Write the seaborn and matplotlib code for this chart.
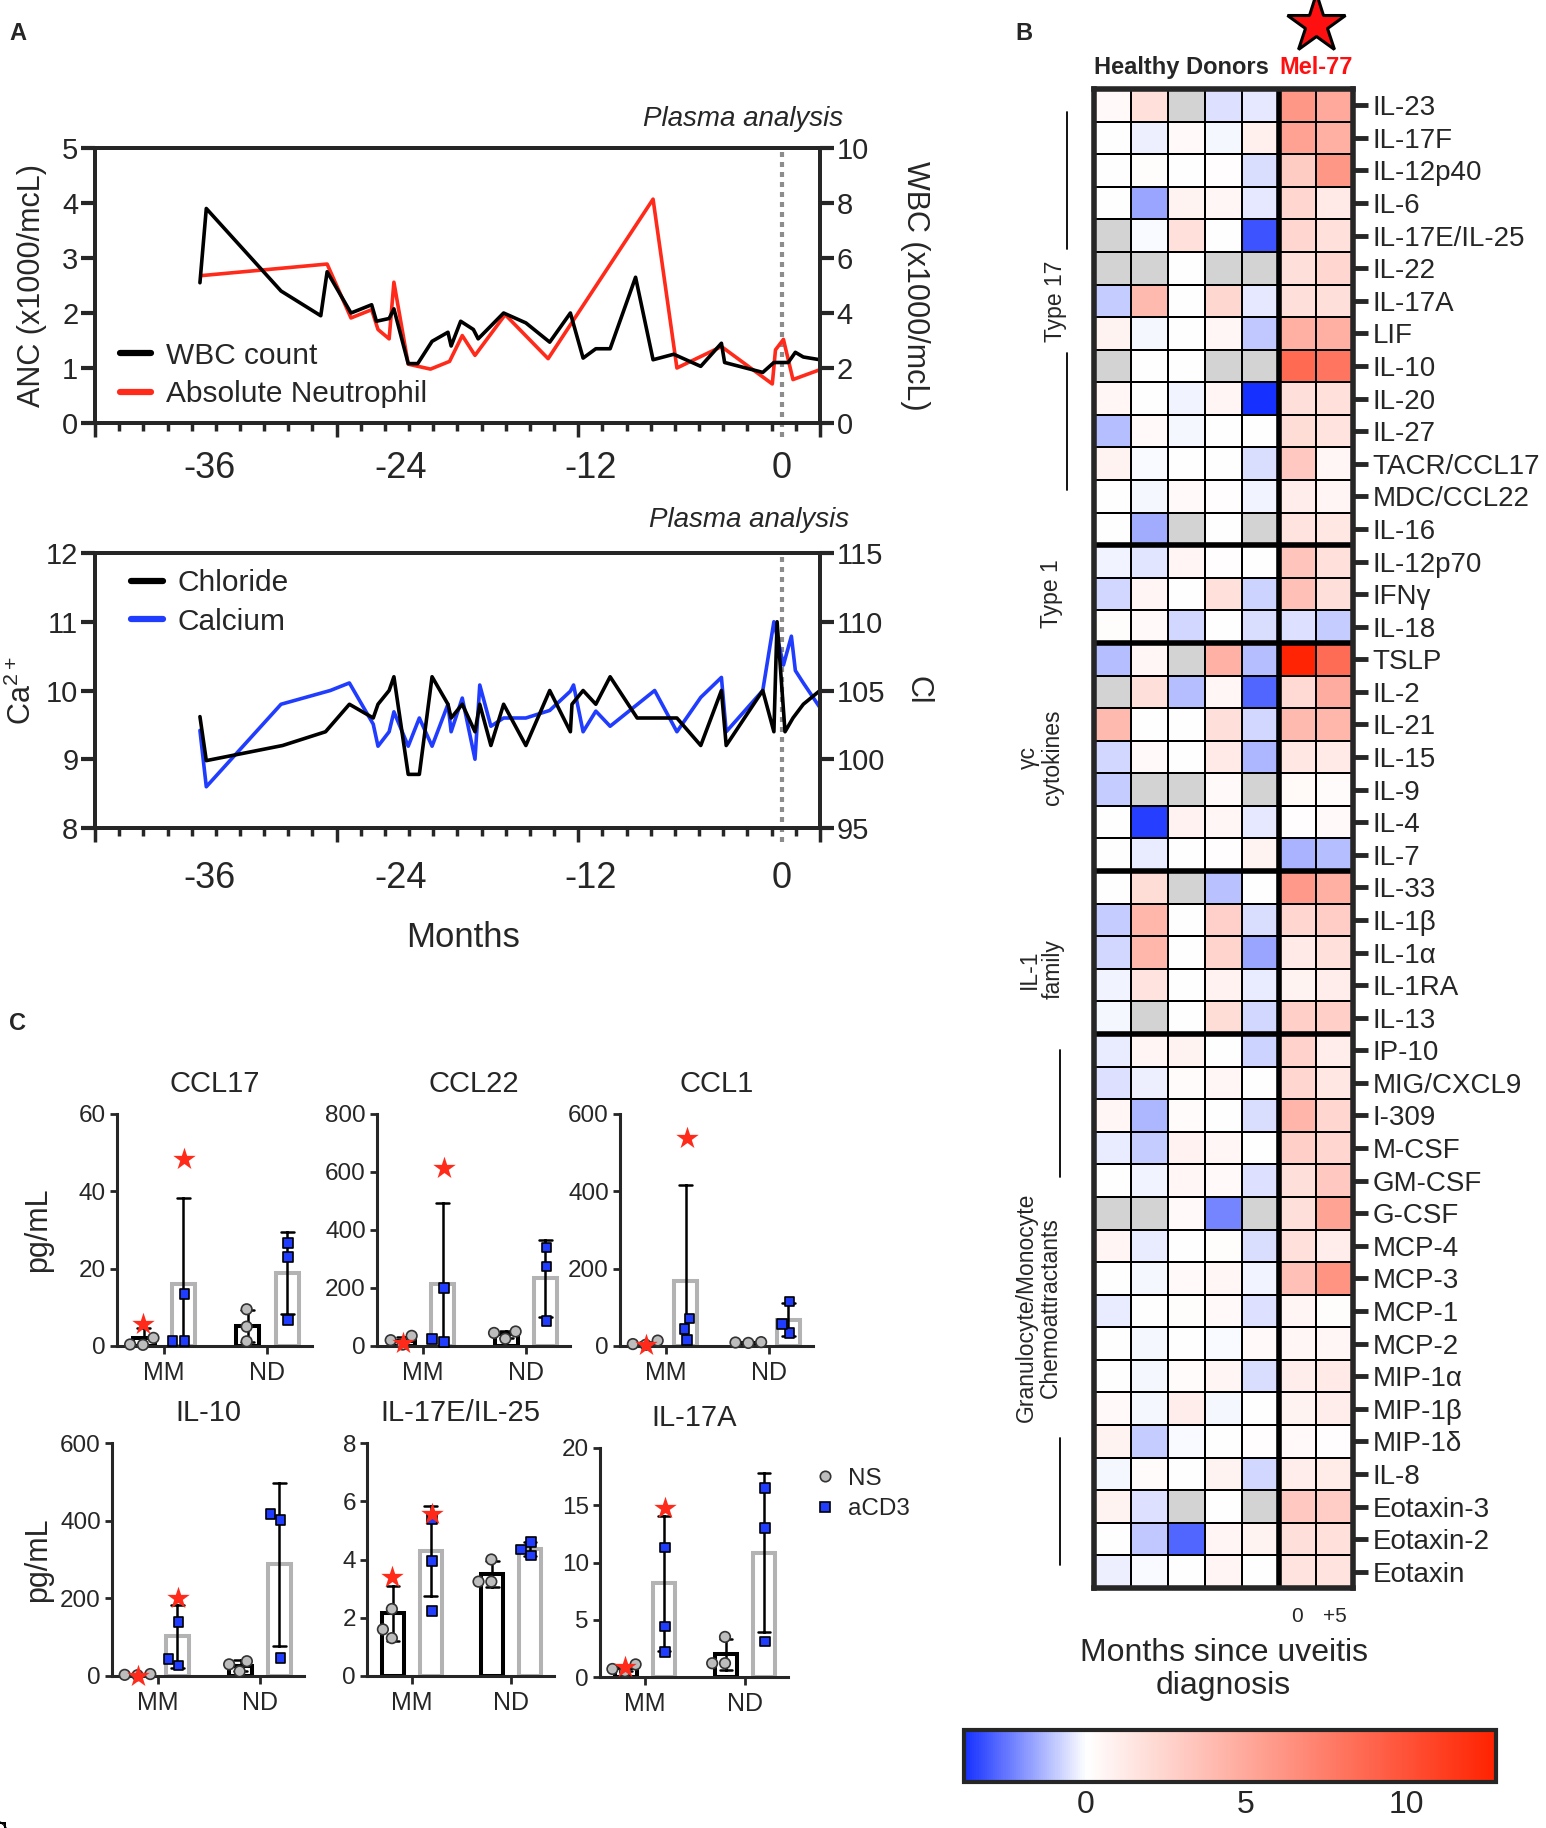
import numpy as np
import pandas as pd
import matplotlib
matplotlib.use("Agg")
import matplotlib.pyplot as plt
import seaborn as sns
from matplotlib.colors import LinearSegmentedColormap
from matplotlib.lines import Line2D

nan = np.nan

# ---------------- panel A data ----------------
wbc_months = [-36.6, -36.2, -31.5, -29.0, -28.6, -27.1, -25.8, -25.5, -24.7, -24.4, -23.5, -22.9,
              -22.0, -21.0, -20.8, -20.2, -19.4, -19.1, -17.5, -16.1, -14.6, -13.3, -12.5, -11.7,
              -10.8, -9.2, -8.1, -6.8, -5.1, -3.8, -3.6, -1.2, -0.5, 0.4, 0.85, 1.35, 2.4]
wbc_count = [5.1, 7.8, 4.8, 3.9, 5.5, 4.0, 4.3, 3.7, 3.8, 4.15, 2.16, 2.16,
             2.97, 3.3, 2.8, 3.7, 3.4, 3.06, 4.0, 3.64, 2.94, 4.0, 2.36, 2.7,
             2.7, 5.3, 2.3, 2.5, 2.06, 2.9, 2.2, 1.84, 2.2, 2.2, 2.57, 2.4, 2.3]
anc_months = [-36.5, -28.6, -27.1, -25.8, -25.4, -24.7, -24.4, -23.5, -22.1, -20.9, -20.1,
              -19.3, -17.4, -14.7, -8.1, -6.6, -3.8, -0.6, -0.4, 0.1, 0.7, 2.4]
anc_values = [2.68, 2.89, 1.91, 2.06, 1.70, 1.53, 2.56, 1.07, 0.98, 1.12, 1.59,
              1.23, 1.97, 1.17, 4.07, 1.0, 1.39, 0.71, 1.33, 1.52, 0.79, 0.97]

cl_months = [-36.6, -36.2, -31.4, -28.7, -27.2, -25.7, -25.4, -24.7, -24.4, -23.5, -22.8, -22.0,
             -21.0, -20.8, -20.1, -19.3, -19.0, -18.3, -17.5, -16.1, -14.6, -13.3, -13.2, -12.5,
             -11.7, -10.8, -9.1, -6.6, -5.1, -3.8, -3.5, -1.2, -0.5, -0.3, 0.2, 0.7, 1.35, 2.4]
chloride = [103.1, 99.9, 101.0, 102.0, 104.0, 103.0, 104.0, 105.0, 106.0, 98.9, 98.9, 106.0,
            104.0, 103.0, 104.0, 102.0, 104.0, 101.0, 104.0, 101.0, 105.0, 102.0, 104.0, 105.0,
            104.0, 106.0, 103.0, 103.0, 101.0, 105.0, 101.0, 105.0, 102.0, 110.0, 102.0, 103.0, 104.0, 105.0]
ca_months = [-36.6, -36.2, -31.5, -28.4, -27.2, -25.7, -25.4, -24.7, -24.4, -23.5, -22.8, -22.0,
             -21.0, -20.8, -20.1, -19.3, -19.0, -18.3, -17.5, -16.1, -14.6, -13.3, -13.1, -12.5,
             -11.7, -10.8, -8.0, -6.6, -5.1, -3.8, -3.5, -1.2, -0.5, 0.1, 0.6, 0.85, 1.35, 2.4]
calcium = [9.42, 8.6, 9.8, 10.0, 10.11, 9.51, 9.19, 9.4, 9.69, 9.19, 9.6, 9.19,
           9.8, 9.4, 9.89, 9.0, 10.08, 9.48, 9.6, 9.6, 9.71, 9.99, 10.08, 9.4,
           9.7, 9.48, 10.0, 9.4, 9.9, 10.19, 9.4, 10.0, 11.0, 10.37, 10.79, 10.29, 10.11, 9.75]

# ---------------- panel C data ----------------
cytokines = ["CCL17", "CCL22", "CCL1", "IL-10", "IL-17E/IL-25", "IL-17A"]
y_max = [60, 800, 600, 600, 8, 20]
y_step = [20, 200, 200, 200, 2, 5]
mm_ns = [[0.3, 2.1, 0.4], [5, 35, 20], [3, 14, 5], [2, 5, 3], [2.3, 1.6, 1.3], [0.5, 1.1, 0.7]]
mm_ns_mel77 = [5.6, 12, 2, 0, 3.4, 0.85]
mm_acd3 = [[1.3, 1.3, 13.5], [15, 25, 200], [15, 44, 71], [27, 139, 44], [5.4, 3.95, 2.24], [11.3, 4.4, 2.2]]
mm_acd3_mel77 = [48.4, 614, 538, 200, 5.56, 14.8]
nd_ns = [[9.5, 5.0, 1.2], [50, 45, 25], [9, 10, 8], [38, 30, 12], [4.0, 3.24, 3.24], [3.5, 1.2, 1.2]]
nd_acd3 = [[26.6, 23.1, 6.8], [340, 274, 86], [33, 115, 56], [417, 401, 46], [4.6, 4.14, 4.34], [16.5, 13.0, 3.1]]

# ---------------- panel B data ----------------
cytokine_rows = ["IL-23", "IL-17F", "IL-12p40", "IL-6", "IL-17E/IL-25", "IL-22", "IL-17A", "LIF",
                 "IL-10", "IL-20", "IL-27", "TACR/CCL17", "MDC/CCL22", "IL-16",
                 "IL-12p70", "IFNγ", "IL-18",
                 "TSLP", "IL-2", "IL-21", "IL-15", "IL-9", "IL-4", "IL-7",
                 "IL-33", "IL-1β", "IL-1α", "IL-1RA", "IL-13",
                 "IP-10", "MIG/CXCL9", "I-309", "M-CSF", "GM-CSF", "G-CSF", "MCP-4", "MCP-3",
                 "MCP-1", "MCP-2", "MIP-1α", "MIP-1β", "MIP-1δ", "IL-8", "Eotaxin-3",
                 "Eotaxin-2", "Eotaxin"]
group_names = ["Type 17", "Type 1", "γc\ncytokines", "IL-1\nfamily",
               "Granulocyte/Monocyte\nChemoattractants"]
group_sizes = [14, 3, 7, 5, 17]
hd_values = [
    [0.3, 1.8, nan, -0.5, -0.4],
    [0.0, -0.25, 0.3, -0.15, 0.9],
    [0.0, 0.2, 0.0, 0.1, -0.6],
    [0.0, -1.6, 0.7, 0.5, -0.4],
    [nan, -0.05, 1.8, 0.0, -3.1],
    [nan, nan, 0.0, nan, nan],
    [-0.9, 4.0, 0.0, 2.3, -0.4],
    [0.7, -0.15, 0.0, 0.5, -1.0],
    [nan, 0.0, 0.0, nan, nan],
    [0.5, 0.0, -0.2, 0.6, -3.8],
    [-1.2, 0.35, -0.15, 0.05, 0.0],
    [0.7, -0.1, 0.0, 0.05, -0.6],
    [0.0, -0.12, 0.35, 0.15, -0.2],
    [0.0, -1.5, nan, 0.05, nan],
    [-0.2, -0.45, 0.6, 0.15, 0.0],
    [-0.7, 0.6, 0.0, 1.8, -0.8],
    [0.2, 0.35, -0.7, 0.0, -0.6],
    [-1.2, 0.5, nan, 4.5, -1.2],
    [nan, 1.9, -1.2, 0.5, -2.8],
    [4.0, 0.0, 0.0, 1.9, -0.7],
    [-0.7, 0.35, 0.0, 1.2, -1.3],
    [-0.9, nan, nan, 0.35, nan],
    [0.0, -3.5, 0.8, 0.5, -0.4],
    [0.0, -0.3, 0.05, 0.1, 0.7],
    [0.05, 2.0, nan, -1.1, 0.0],
    [-0.9, 4.2, 0.0, 2.7, -0.6],
    [-0.7, 4.2, 0.0, 2.5, -1.6],
    [-0.2, 1.6, 0.0, 0.8, -0.35],
    [-0.15, nan, 0.05, 2.0, -0.7],
    [-0.3, 0.6, 0.7, 0.0, -0.8],
    [-0.5, -0.25, 0.25, 0.5, 0.0],
    [0.5, -1.3, 0.25, 0.0, -0.6],
    [-0.3, -0.9, 0.8, 0.5, 0.0],
    [0.0, -0.2, 0.5, 0.35, -0.5],
    [nan, nan, 0.35, -2.2, nan],
    [0.6, -0.35, 0.0, 0.2, -0.6],
    [0.0, -0.15, 0.35, 0.5, -0.2],
    [-0.35, 0.0, 0.2, 0.35, -0.5],
    [0.0, -0.15, 0.0, -0.05, 0.35],
    [0.0, -0.15, 0.25, 0.6, -0.6],
    [0.35, -0.15, 1.0, -0.15, 0.0],
    [0.7, -0.9, -0.1, 0.0, 0.1],
    [-0.15, 0.25, 0.0, 0.7, -0.7],
    [0.7, -0.5, nan, 0.0, nan],
    [0.0, -1.0, -2.8, 0.6, 0.7],
    [-0.25, -0.1, 0.0, 0.6, 0.05],
]
mel77_values = [
    [6.0, 5.0], [5.4, 4.6], [3.0, 6.0], [2.4, 1.2], [2.4, 1.8], [1.9, 2.4], [1.9, 1.9],
    [4.6, 4.6], [8.6, 8.0], [1.9, 1.8], [2.0, 1.6], [3.1, 0.5], [1.0, 0.6], [1.6, 1.4],
    [3.4, 1.8], [3.6, 1.9], [-0.5, -0.9],
    [12.6, 8.5], [2.2, 4.8], [4.0, 4.2], [1.4, 1.2], [0.4, 0.25], [0.15, 0.35], [-1.4, -1.2],
    [5.8, 4.6], [2.4, 2.9], [1.2, 1.8], [0.7, 1.0], [2.8, 2.8],
    [2.6, 1.0], [2.4, 1.4], [4.3, 2.4], [2.8, 2.4], [1.9, 3.1], [1.9, 5.3], [1.8, 1.0],
    [3.6, 6.2], [0.6, 0.2], [0.5, 0.5], [1.0, 1.2], [0.7, 1.0], [0.35, 0.1], [1.0, 1.1],
    [3.1, 2.9], [1.9, 1.8], [1.6, 1.6],
]
mel77_months = ["0", "+5"]
cbar_range = (-3.8, 12.8)
cbar_ticks = [0, 5, 10]

# ---------------- style ----------------
sns.set_style("ticks")
plt.rcParams["font.family"] = ["Liberation Sans", "DejaVu Sans"]
plt.rcParams["mathtext.fontset"] = "custom"
plt.rcParams["mathtext.rm"] = "Liberation Sans"
plt.rcParams["mathtext.default"] = "regular"

RED = "#ff2a1a"
BLUE = "#1f3cff"
GRAY_PT = "#bdbdbd"

W, H = 1546, 1828


def box(x0, y0, x1, y1):
    return [x0 / W, 1 - y1 / H, (x1 - x0) / W, (y1 - y0) / H]


fig = plt.figure(figsize=(W / 100, H / 100), dpi=100)

# ---------------- panel A ----------------
XMIN, XMAX = -43.2, 2.4


def style_timeline(ax, axr, lticks, rticks, label_pad):
    ax.set_xlim(XMIN, XMAX)
    ax.set_xticks(np.linspace(XMIN, XMAX, 4))
    ax.set_xticks(np.linspace(XMIN, XMAX, 31), minor=True)
    ax.set_xticklabels([])
    ax.tick_params(axis="x", which="major", length=10, width=2.5)
    ax.tick_params(axis="x", which="minor", length=6, width=2.5)
    sec = ax.secondary_xaxis("bottom")
    sec.set_ticks([-36, -24, -12, 0], labels=["-36", "-24", "-12", "0"], fontsize=26)
    sec.tick_params(length=0, pad=label_pad)
    sec.spines["bottom"].set_visible(False)
    ax.set_ylim(lticks[0], lticks[-1])
    ax.set_yticks(lticks, labels=[str(t) for t in lticks], fontsize=21)
    axr.set_ylim(rticks[0], rticks[-1])
    axr.set_yticks(rticks, labels=[str(t) for t in rticks], fontsize=21)
    ax.tick_params(axis="y", length=10, width=3, pad=2)
    axr.tick_params(axis="y", length=10, width=3, pad=2)
    for a in (ax, axr):
        for s in a.spines.values():
            s.set_linewidth(2.8)
    ax.axvline(0, ymin=-0.05, ymax=1, color="#8c8c8c", ls=(0, (1.2, 1.2)), lw=3,
               clip_on=False, zorder=0)
    ax.set_xlabel("")
    axr.set_xlabel("")


ax1 = fig.add_axes(box(95, 148, 820, 423))
ax1r = ax1.twinx()
sns.lineplot(x=anc_months, y=anc_values, ax=ax1, color=RED, linewidth=2.6, estimator=None)
sns.lineplot(x=wbc_months, y=wbc_count, ax=ax1r, color="black", linewidth=2.6, estimator=None)
style_timeline(ax1, ax1r, [0, 1, 2, 3, 4, 5], [0, 2, 4, 6, 8, 10], 20)
ax1.set_ylabel("ANC (x1000/mcL)", fontsize=22, va="center")
ax1.yaxis.set_label_coords(-0.087, 0.5)
ax1r.set_ylabel("WBC (x1000/mcL)", fontsize=22, rotation=-90, va="center")
ax1r.yaxis.set_label_coords(1.131, 0.5)
ax1r.legend([Line2D([], [], color="black", lw=4.5), Line2D([], [], color=RED, lw=4.5)],
            ["WBC count", "Absolute Neutrophil"], loc="center left",
            bbox_to_anchor=(0.034, 0.175), frameon=False, handlelength=1.05,
            handletextpad=0.5, labelspacing=0.35, borderaxespad=0, borderpad=0,
            prop={"size": 21.5})

ax2 = fig.add_axes(box(95, 553, 820, 828))
ax2r = ax2.twinx()
sns.lineplot(x=ca_months, y=calcium, ax=ax2, color=BLUE, linewidth=2.6, estimator=None)
sns.lineplot(x=cl_months, y=chloride, ax=ax2r, color="black", linewidth=2.6, estimator=None)
style_timeline(ax2, ax2r, [8, 9, 10, 11, 12], [95, 100, 105, 110, 115], 24)
ax2.set_ylabel("Ca$^{2+}$", fontsize=22, va="center")
ax2.yaxis.set_label_coords(-0.1, 0.5)
ax2r.set_ylabel("Cl", fontsize=22, rotation=-90, va="center")
ax2r.yaxis.set_label_coords(1.135, 0.5)
ax2r.legend([Line2D([], [], color="black", lw=4.5), Line2D([], [], color=BLUE, lw=4.5)],
            ["Chloride", "Calcium"], loc="center left",
            bbox_to_anchor=(0.05, 0.82), frameon=False, handlelength=1.05,
            handletextpad=0.5, labelspacing=0.35, borderaxespad=0, borderpad=0,
            prop={"size": 21.5})

fig.text(843 / W, 1 - 119 / H, "Plasma analysis", ha="right", va="center",
         style="italic", fontsize=20)
fig.text(849 / W, 1 - 520 / H, "Plasma analysis", ha="right", va="center",
         style="italic", fontsize=20)
fig.text(463 / W, 1 - 937 / H, "Months", ha="center", va="center", fontsize=25)

# ---------------- panel C ----------------
GROUPS = ["MM", "ND"]
CONDS = ["NS", "aCD3"]
c_boxes = [(117, 1114, 312, 1346), (377, 1114, 570, 1346), (620, 1114, 813, 1346),
           (112, 1443, 304, 1676), (367, 1443, 554, 1676), (600, 1448, 788, 1677)]

for i, name in enumerate(cytokines):
    recs = []
    for v in mm_ns[i]:
        recs.append(("MM", "NS", v, False))
    recs.append(("MM", "NS", mm_ns_mel77[i], True))
    for v in mm_acd3[i]:
        recs.append(("MM", "aCD3", v, False))
    recs.append(("MM", "aCD3", mm_acd3_mel77[i], True))
    for v in nd_ns[i]:
        recs.append(("ND", "NS", v, False))
    for v in nd_acd3[i]:
        recs.append(("ND", "aCD3", v, False))
    df = pd.DataFrame(recs, columns=["group", "cond", "value", "mel77"])

    x0, y0, x1, y1 = c_boxes[i]
    ax = fig.add_axes(box(x0, y0, x1, y1))
    sns.barplot(data=df, x="group", y="value", hue="cond", order=GROUPS, hue_order=CONDS,
                errorbar="sd", capsize=0.25, fill=False, width=0.76, gap=0.42,
                palette={"NS": "black", "aCD3": "#b3b3b3"}, linewidth=2.9,
                err_kws={"color": "black", "linewidth": 1.8}, legend=False, ax=ax)
    others = df[~df["mel77"]]
    sns.swarmplot(data=others[others["cond"] == "NS"], x="group", y="value", hue="cond",
                  order=GROUPS, hue_order=CONDS, dodge=True, marker="o", size=7.6,
                  palette={"NS": GRAY_PT, "aCD3": BLUE}, edgecolor="#333333", linewidth=1.2,
                  legend=False, ax=ax, zorder=4)
    sns.swarmplot(data=others[others["cond"] == "aCD3"], x="group", y="value", hue="cond",
                  order=GROUPS, hue_order=CONDS, dodge=True, marker="s", size=7,
                  palette={"NS": GRAY_PT, "aCD3": BLUE}, edgecolor="black", linewidth=1.2,
                  legend=False, ax=ax, zorder=4)
    sns.stripplot(data=df[df["mel77"]], x="group", y="value", hue="cond", order=GROUPS,
                  hue_order=CONDS, dodge=True, jitter=False, marker="*", size=17,
                  palette={"NS": RED, "aCD3": RED}, linewidth=0, legend=False, ax=ax, zorder=5)
    for c in ax.collections:
        c.set_clip_on(False)
    ax.set_xlim(-0.45, 1.43)
    ax.set_ylim(0, y_max[i])
    ticks = list(range(0, y_max[i] + 1, y_step[i]))
    ax.set_yticks(ticks, labels=[str(t) for t in ticks], fontsize=17.5)
    ax.set_xticks([0, 1], labels=GROUPS, fontsize=18)
    ax.tick_params(axis="y", length=5, width=2, pad=3)
    ax.tick_params(axis="x", length=6, width=2, pad=5)
    sns.despine(ax=ax)
    for s in ("left", "bottom"):
        ax.spines[s].set_linewidth(2.2)
    ax.set_xlabel("")
    ax.set_ylabel("pg/mL" if i % 3 == 0 else "", fontsize=22, va="center")
    ax.yaxis.set_label_coords((38 - x0) / (x1 - x0), 0.5)
    ax.set_title(name, fontsize=21, pad=16)

fig.legend([Line2D([], [], ls="", marker="o", mfc=GRAY_PT, mec="#333333", ms=7.5, mew=1.2),
            Line2D([], [], ls="", marker="s", mfc=BLUE, mec="black", ms=7, mew=1.2)],
           CONDS, loc="center left", bbox_to_anchor=(815 / W, 1 - 1494 / H), frameon=False,
           handlelength=0.8, handletextpad=0.55, labelspacing=0.35, borderpad=0,
           borderaxespad=0, prop={"size": 17.5})

# ---------------- panel B ----------------
heat = np.hstack([np.array(hd_values, float), np.array(mel77_values, float)])
heat_df = pd.DataFrame(heat, index=cytokine_rows,
                       columns=["HD1", "HD2", "HD3", "HD4", "HD5"] + mel77_months)
white_at = -cbar_range[0] / (cbar_range[1] - cbar_range[0])
cmap = LinearSegmentedColormap.from_list(
    "uveitis", [(0, "#1530ff"), (white_at, "#ffffff"), (1, "#ff2200")])

hax = fig.add_axes(box(1094, 89, 1353, 1588))
cax = fig.add_axes(box(964, 1730, 1496, 1782))
sns.heatmap(heat_df, ax=hax, cmap=cmap, vmin=cbar_range[0], vmax=cbar_range[1],
            linewidths=1.3, linecolor="black", cbar_ax=cax,
            cbar_kws={"orientation": "horizontal", "ticks": cbar_ticks},
            xticklabels=False, yticklabels=True)
hax.set_facecolor("#d3d3d3")
n_hd = 5
hax.set_xticks([n_hd + 0.5 + k for k in range(len(mel77_months))], labels=mel77_months,
               fontsize=15, rotation=0)
hax.tick_params(axis="x", length=0, pad=14)
hax.set_yticks(np.arange(len(cytokine_rows)) + 0.5, labels=cytokine_rows, fontsize=20,
               rotation=0)
hax.yaxis.tick_right()
hax.tick_params(axis="y", length=11, width=3.5, pad=3, right=True, left=False)
for s in hax.spines.values():
    s.set_visible(True)
    s.set_linewidth(4)
for b in np.cumsum(group_sizes)[:-1]:
    hax.axhline(b, color="black", lw=4)
hax.axvline(n_hd, color="black", lw=4)
hax.set_xlabel("Months since uveitis\ndiagnosis", fontsize=23, labelpad=8, linespacing=1.15)
hax.set_ylabel("")

hax.text(2.35, -0.3, "Healthy Donors", ha="center", va="bottom", fontsize=17,
         fontweight="bold", clip_on=False)
hax.text(6.0, -0.3, "Mel-77", ha="center", va="bottom", fontsize=17, fontweight="bold",
         color="#ff1010", clip_on=False)
hax.plot([6.0], [-2.0], marker="*", ms=44, mfc="#ff1010", mec="black", mew=2.2,
         clip_on=False, ls="")

# group labels on the left
label_x = [-1.05, -1.16, -1.45, -1.42, -1.5]
label_row = [6.5, 15.5, 20.5, 27.0, 37.4]
for name, x, r in zip(group_names, label_x, label_row):
    hax.text(x, r, name, rotation=90, ha="center", va="center", fontsize=16.5,
             multialignment="center", linespacing=1.05, clip_on=False)
for x, r, ext, gap in [(-0.73, 6.5, 5.8, 1.6), (-0.92, 37.4, 7.9, 4.0)]:
    hax.plot([x, x], [r - ext, r - gap], color="black", lw=1.3, clip_on=False)
    hax.plot([x, x], [r + gap, r + ext], color="black", lw=1.3, clip_on=False)

cb = hax.collections[0].colorbar
cb.outline.set_linewidth(3)
cax.tick_params(axis="x", direction="in", top=True, bottom=True, length=8, width=2.5,
                labelsize=23, pad=6)

# panel letters
fig.text(9 / W, 1 - 33 / H, "A", fontsize=17, fontweight="bold", va="center")
fig.text(1015 / W, 1 - 33 / H, "B", fontsize=17, fontweight="bold", va="center")
fig.text(9 / W, 1 - 1024 / H, "C", fontsize=17, fontweight="bold", va="center")

fig.savefig("out.png", dpi=100)
